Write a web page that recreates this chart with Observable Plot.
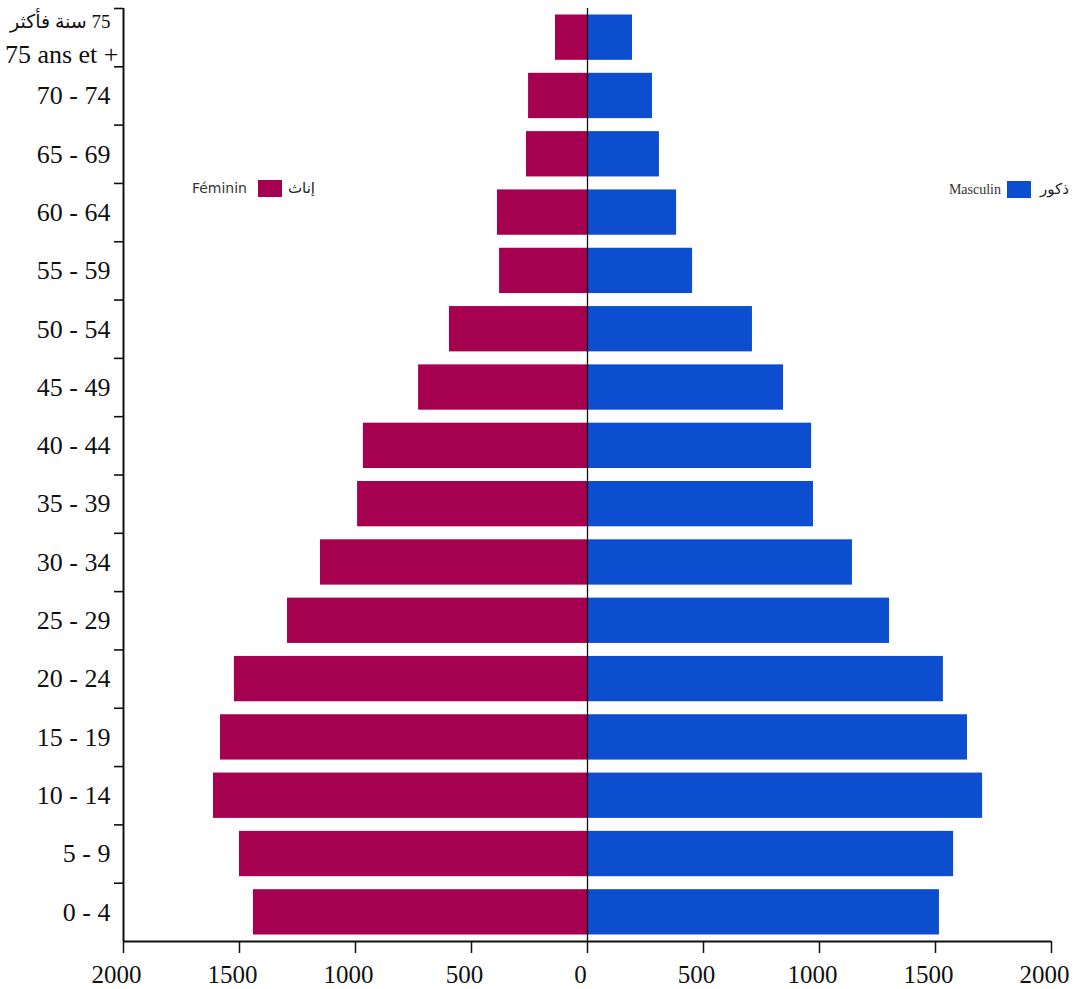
<!DOCTYPE html>
<html><head><meta charset="utf-8">
<script src="https://cdn.jsdelivr.net/npm/d3@7"></script>
<script src="https://cdn.jsdelivr.net/npm/@observablehq/plot@0.6"></script>
<style>body{margin:0;background:#fff} #chart{position:relative;width:1080px;height:989px}</style>
</head><body><div id="chart"></div>
<script>
// ---- data ----
const ages = ["0 - 4","5 - 9","10 - 14","15 - 19","20 - 24","25 - 29","30 - 34","35 - 39","40 - 44","45 - 49","50 - 54","55 - 59","60 - 64","65 - 69","70 - 74","75 ans et +"];
const topLabelAr = "\u202B75 سنة فأكثر\u202C";
const topLabelFr = "75 ans et +";
const female = [1440,1500,1612,1582,1522,1293,1151,991,966,728,595,379,388,263,254,138];
const male   = [1517,1578,1703,1638,1534,1302,1142,974,966,845,711,453,384,310,280,194];
const xTicks = [-2000,-1500,-1000,-500,0,500,1000,1500,2000];
const legendFemale = {fr:"Féminin", ar:"إناث"};
const legendMale = {fr:"Masculin", ar:"ذكور"};
const colors = {female:"#A60050", male:"#0C4ECF"};

const rows = ages.flatMap((age,i)=>[
  {i, age, sex:"female", value:-female[i]},
  {i, age, sex:"male", value:male[i]}
]);
const labelRows = ages.map((age,i)=>({i, age})).filter(d=>d.i<ages.length-1);
const topRow = [{i:ages.length-1, ar:topLabelAr, fr:topLabelFr}];

const serif = "'Liberation Serif', 'DejaVu Serif', serif";

const plot = Plot.plot({
  width:1080, height:989,
  marginLeft:123, marginRight:29, marginTop:8, marginBottom:48,
  style:{fontFamily:serif, background:"#fff", color:"#111"},
  x:{domain:[-2000,2000], axis:null},
  y:{domain:[0,ages.length], axis:null},
  marks:[
    Plot.rectX(rows,{x1:0, x2:"value", y1:"i", y2:d=>d.i+1, insetTop:6.5, insetBottom:6.5, fill:d=>colors[d.sex]}),
    Plot.ruleX([0],{stroke:"#111", strokeWidth:1.3}),
    Plot.ruleX([-2000],{stroke:"#111", strokeWidth:2}),
    Plot.axisY({ticks:d3.range(1,ages.length+1), tickSize:9, tickFormat:()=>"", strokeWidth:1.6, label:null}),
    Plot.text(labelRows,{y:d=>d.i+0.5, text:"age", frameAnchor:"left", dx:-13, textAnchor:"end", fontSize:26, fill:"#111"}),
    Plot.text(topRow,{y:d=>d.i+0.5, text:"ar", frameAnchor:"left", dx:-13, dy:-16, textAnchor:"end", fontSize:19, fill:"#111", fontFamily:"'Liberation Serif','DejaVu Sans',serif"}),
    Plot.text(topRow,{y:d=>d.i+0.5, text:"fr", frameAnchor:"left", dx:-5, dy:17, textAnchor:"end", fontSize:26, fill:"#111"}),
    Plot.ruleY([0],{stroke:"#111", strokeWidth:2}),
    Plot.axisX({ticks:xTicks, tickSize:12, tickFormat:()=>"", strokeWidth:1.5, label:null}),
    Plot.axisX({ticks:xTicks, tickSize:0, tickPadding:24, tickFormat:d=>String(Math.abs(d)), fontSize:25, dx:-7, label:null, fill:"#111"})
  ]
});
document.getElementById("chart").appendChild(plot);

// legend inside the plot area
const svg = d3.select(plot);
const lg = svg.append("g");
function legend(xText, xRect, xAr, y, item, color, fontFr){
  lg.append("text").attr("x", xText).attr("y", y+5).attr("text-anchor","end")
    .attr("font-family", fontFr).attr("font-size", 14).attr("fill","#333").text(item.fr);
  lg.append("rect").attr("x", xRect).attr("y", y-8).attr("width", 24).attr("height", 17).attr("fill", color);
  lg.append("text").attr("x", xAr).attr("y", y+5).attr("text-anchor","start")
    .attr("font-family","'DejaVu Sans', sans-serif").attr("font-size", 15).attr("fill","#222").text(item.ar);
}
legend(247, 258, 288, 188, legendFemale, colors.female, "'DejaVu Sans', sans-serif");
legend(1001, 1007, 1040, 189, legendMale, colors.male, serif);
</script>
</body></html>
